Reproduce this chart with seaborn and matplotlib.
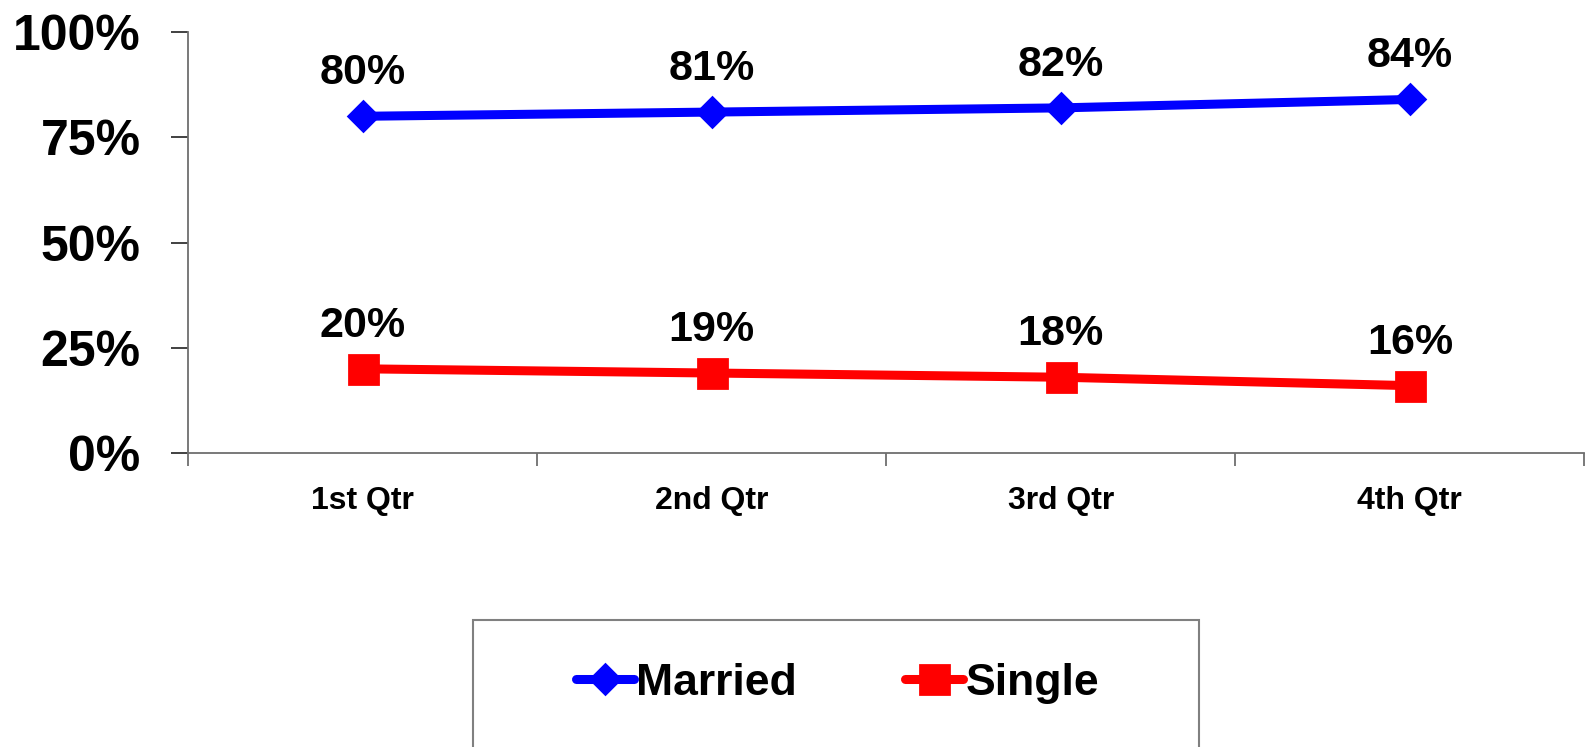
import pandas as pd
import seaborn as sns
import matplotlib.pyplot as plt
from matplotlib.patches import Rectangle
from matplotlib.ticker import FixedLocator, PercentFormatter

# 데이터
quarters = ['1st Qtr', '2nd Qtr', '3rd Qtr', '4th Qtr']
married = [0.80, 0.81, 0.82, 0.84]
single = [0.20, 0.19, 0.18, 0.16]
series_names = ['Married', 'Single']

df = pd.DataFrame({
    'quarter': quarters * 2,
    'value': married + single,
    'status': [series_names[0]] * 4 + [series_names[1]] * 4,
})

sns.set_style('white')
plt.rcParams['font.family'] = ['Liberation Sans', 'DejaVu Sans']
plt.rcParams['font.weight'] = 'bold'
plt.rcParams['text.color'] = 'black'
plt.rcParams['xtick.color'] = 'black'
plt.rcParams['ytick.color'] = 'black'

fig = plt.figure(figsize=(15.86, 7.47), dpi=100)
ax = fig.add_axes([0.1185, 0.3936, 0.8805, 0.5634])

sns.pointplot(data=df, x='quarter', y='value', hue='status', order=quarters,
              hue_order=series_names, palette={'Married': '#0000ff', 'Single': '#ff0000'},
              markers=['D', 's'], linestyles=['-', '-'], errorbar=None,
              markersize=17, linewidth=6.5, ax=ax)

# 마커 크기 조정 (다이아몬드는 작게)
msize = {'D': 12, 's': 18}
for line in ax.lines:
    m = line.get_marker()
    if m in msize:
        line.set_markersize(msize[m])

# 라벨
for line in ax.lines:
    xs, ys = line.get_xdata(), line.get_ydata()
    if len(xs) != len(quarters):
        continue
    for x, y in zip(xs, ys):
        ax.annotate(f'{y:.0%}', (x, y), xytext=(0, 31), textcoords='offset points',
                    ha='center', va='center', fontsize=31, fontweight='bold', color='black')

ax.set_ylim(0, 1)
ax.set_xlim(-0.5, 3.5)
ax.yaxis.set_major_locator(FixedLocator([0, 0.25, 0.5, 0.75, 1.0]))
ax.yaxis.set_major_formatter(PercentFormatter(1.0, decimals=0))
ax.set_xlabel('')
ax.set_ylabel('')

for s in ['top', 'right']:
    ax.spines[s].set_visible(False)
for s in ['left', 'bottom']:
    ax.spines[s].set_color('#6e6e6e')
    ax.spines[s].set_linewidth(1.3)

ax.tick_params(axis='y', which='major', left=True, length=12, width=1.3, color='#333333',
               labelsize=36, pad=22)
ax.tick_params(axis='x', which='major', bottom=False, labelsize=23, pad=20)
ax.xaxis.set_minor_locator(FixedLocator([-0.5, 0.5, 1.5, 2.5, 3.5]))
ax.tick_params(axis='x', which='minor', bottom=True, length=9, width=1.3, color='#6e6e6e')
for lbl in ax.get_xticklabels() + ax.get_yticklabels():
    lbl.set_fontweight('bold')

# 범례
handles, labels = ax.get_legend_handles_labels()
ax.get_legend().remove()
for h in handles:
    m = h.get_marker()
    if m in msize:
        h.set_markersize(msize[m])
fig.legend(handles, labels, loc='center', bbox_to_anchor=(0.528, 0.085), ncol=2,
           frameon=False, prop={'weight': 'bold', 'size': 32},
           handlelength=1.3, handletextpad=0.05, columnspacing=2.45)
fig.patches.append(Rectangle((0.298, -0.1), 0.458, 0.27, transform=fig.transFigure,
                             fill=False, edgecolor='#808080', linewidth=1.5))

fig.savefig('out.png', dpi=100)
